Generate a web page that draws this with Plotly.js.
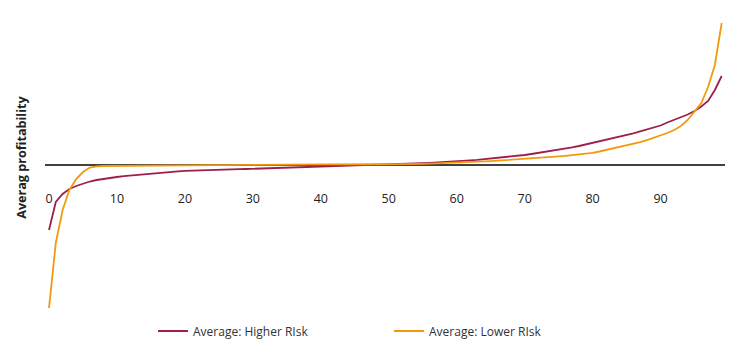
<!DOCTYPE html>
<html>
<head>
<meta charset="utf-8">
<script src="https://cdn.plot.ly/plotly-3.0.1.min.js"></script>
<style>
html,body{margin:0;padding:0;background:#fff;}
#chart{width:740px;height:351px;}
</style>
</head>
<body>
<div id="chart"></div>
<script>
// Percentile position 0..99
const percentile = Array.from({length: 100}, (_, i) => i);
const tickVals = [0, 10, 20, 30, 40, 50, 60, 70, 80, 90];
const tickLabels = ["0", "10", "20", "30", "40", "50", "60", "70", "80", "90"];
const seriesNames = ["Average: Higher RIsk", "Average: Lower RIsk"];

const higherRisk = [
  -65, -37, -29, -24, -21, -18.5, -16.5, -15, -13.8, -12.8,
  -12, -11.2, -10.5, -9.8, -9.2, -8.6, -8, -7.4, -6.8, -6.3,
  -5.9, -5.6, -5.4, -5.2, -5, -4.8, -4.6, -4.4, -4.2, -4,
  -3.8, -3.6, -3.4, -3.2, -3, -2.8, -2.6, -2.3, -2.1, -1.9,
  -1.6, -1.4, -1.2, -1, -0.8, -0.6, -0.4, -0.1, 0.1, 0.3,
  0.5, 0.7, 1, 1.3, 1.6, 1.9, 2.2, 2.5, 2.9, 3.3,
  3.7, 4.1, 4.6, 5.1, 5.7, 6.3, 6.9, 7.5, 8.2, 8.9,
  10, 11, 12, 13, 14, 15.2, 16.5, 17.7, 19, 20.5,
  22, 23.5, 25, 26.8, 28.5, 30.1, 31.7, 33.6, 35.5, 37.5,
  39.5, 42.5, 45, 47.5, 50.5, 54, 58.5, 64, 75, 89
];

const lowerRisk = [
  -143, -78, -45, -25, -14, -7, -2.5, -1.3, -1, -0.9,
  -0.8, -0.8, -0.7, -0.7, -0.6, -0.6, -0.5, -0.5, -0.4, -0.4,
  -0.3, -0.3, -0.2, -0.2, -0.1, -0.1, 0, 0, 0.1, 0.1,
  0.2, 0.2, 0.3, 0.3, 0.4, 0.4, 0.5, 0.5, 0.6, 0.6,
  0.7, 0.7, 0.8, 0.8, 0.8, 0.9, 0.9, 1.2, 0.8, 0.6,
  0.6, 0.7, 0.8, 0.9, 1, 1.2, 1.4, 1.6, 1.8, 2,
  2.3, 2.6, 2.9, 3.2, 3.5, 3.9, 4.3, 4.7, 5.1, 5.5,
  6, 6.5, 7, 7.5, 8, 8.6, 9.2, 9.8, 10.5, 11.3,
  12.2, 13.5, 15, 16.5, 18, 19.5, 21, 22.8, 24.8, 27,
  29.5, 32, 35, 39, 45, 53, 62, 78, 100, 142
];

const traces = [
  {
    x: percentile, y: higherRisk, type: 'scatter', mode: 'lines',
    name: seriesNames[0],
    line: {color: '#9e1f4c', width: 1.8}
  },
  {
    x: percentile, y: lowerRisk, type: 'scatter', mode: 'lines',
    name: seriesNames[1],
    line: {color: '#f39a0c', width: 1.8}
  }
];

const layout = {
  width: 740, height: 351,
  margin: {l: 45, r: 15, t: 15, b: 36, autoexpand: false},
  paper_bgcolor: '#fff', plot_bgcolor: '#fff',
  font: {family: 'Open Sans, Noto Sans, sans-serif', size: 12, color: '#333'},
  showlegend: true,
  legend: {
    orientation: 'h',
    xref: 'container', yref: 'container',
    x: 0.2068, xanchor: 'left', y: 0.057, yanchor: 'middle',
    font: {size: 12, color: '#333'},
    entrywidth: 191, entrywidthmode: 'pixels',
    traceorder: 'normal'
  },
  xaxis: {
    range: [-0.59, 99.49],
    tickvals: tickVals, ticktext: tickLabels,
    showgrid: false, zeroline: false, showline: false, ticks: '',
    anchor: 'free', position: 0.4167,
    tickfont: {size: 12.5, color: '#222'},
    fixedrange: true
  },
  yaxis: {
    range: [-150, 150],
    showticklabels: false, showgrid: false, ticks: '',
    zeroline: true, zerolinecolor: '#404040', zerolinewidth: 1.5,
    showline: false, fixedrange: true
  },
  annotations: [{
    text: '<b>Averag profitability</b>', textangle: -90,
    xref: 'paper', yref: 'paper', x: -0.034, y: 0.527,
    xanchor: 'center', yanchor: 'middle', showarrow: false,
    font: {size: 12.6, color: '#222'}
  }]
};

Plotly.newPlot('chart', traces, layout, {displayModeBar: false, staticPlot: true});
</script>
</body>
</html>
